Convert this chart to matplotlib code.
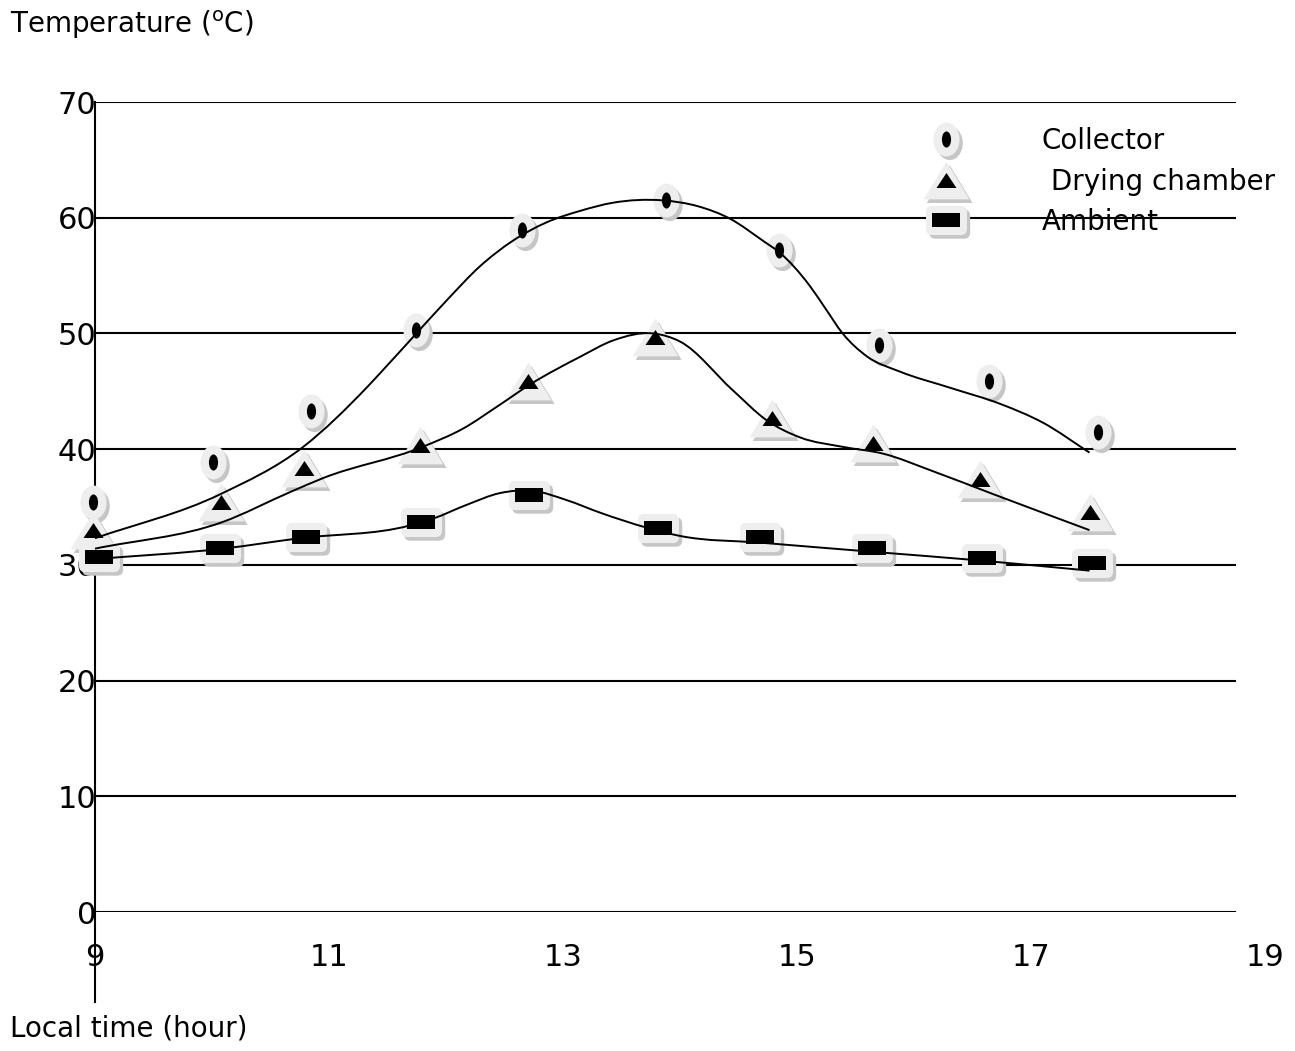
import numpy as np
import matplotlib
matplotlib.use("Agg")
import matplotlib.pyplot as plt
from matplotlib.path import Path
from matplotlib.patches import PathPatch
from matplotlib.lines import Line2D
from matplotlib.legend_handler import HandlerTuple

# ---------------- data ----------------
series_names = ["Collector", " Drying chamber", "Ambient"]

collector_time = [8.98, 10.01, 10.85, 11.74, 12.65, 13.88, 14.85, 15.70, 16.64, 17.57]
collector_temp = [35.4, 38.9, 43.3, 50.3, 58.9, 61.5, 57.2, 49.0, 45.9, 41.5]

drying_time = [8.98, 10.08, 10.79, 11.78, 12.70, 13.79, 14.79, 15.65, 16.56, 17.50]
drying_temp = [33.0, 35.4, 38.4, 40.4, 45.9, 49.7, 42.7, 40.5, 37.4, 34.6]

ambient_time = [9.03, 10.07, 10.80, 11.79, 12.71, 13.81, 14.68, 15.64, 16.58, 17.52]
ambient_temp = [30.7, 31.5, 32.4, 33.7, 36.0, 33.2, 32.4, 31.5, 30.6, 30.2]

# smoothed trend curves
collector_curve_time = [9.0, 10.07, 10.78, 11.32, 11.44, 11.72, 12.01, 12.29, 12.57, 12.86,
                        13.15, 13.43, 13.85, 14.15, 14.43, 14.71, 14.85, 15.11, 15.24,
                        15.39, 15.60, 15.88, 16.31, 16.74, 17.10, 17.50]
collector_curve_temp = [32.3, 36.1, 40.2, 45.3, 46.6, 49.7, 52.9, 55.8, 58.0, 59.6,
                        60.6, 61.3, 61.5, 61.0, 59.9, 58.0, 57.0, 54.1, 52.2,
                        50.0, 48.0, 46.7, 45.3, 43.9, 42.3, 39.7]

drying_curve_time = [9.0, 10.09, 10.67, 10.95, 11.80, 12.15, 12.44, 12.72, 13.15, 13.43,
                     13.77, 14.0, 14.45, 14.74, 15.03, 15.39, 15.74, 16.16, 16.68,
                     17.50]
drying_curve_temp = [31.4, 33.7, 36.3, 37.5, 40.2, 41.8, 43.7, 45.6, 48.0, 49.4,
                     50.0, 49.3, 45.1, 42.5, 41.0, 40.2, 39.6, 38.1, 36.1,
                     33.0]

ambient_curve_time = [9.0, 10.09, 10.75, 11.69, 11.89, 12.18, 12.46, 12.74, 13.03, 13.32,
                      13.72, 14.0, 14.71, 15.68, 16.54, 17.50]
ambient_curve_temp = [30.5, 31.4, 32.3, 33.4, 34.0, 35.2, 36.2, 36.4, 35.6, 34.5,
                      33.2, 32.5, 31.9, 31.1, 30.4, 29.5]

x_ticks = [9, 11, 13, 15, 17, 19]
y_ticks = [0, 10, 20, 30, 40, 50, 60, 70]

# ---------------- helpers ----------------
W, H = 1295, 1051
FONT = "DejaVu Sans"
plt.rcParams["font.family"] = [FONT]
plt.rcParams["mathtext.fontset"] = "dejavusans"

BODY = "#eeeeee"
SHADOW = "#c6c6c6"
SH_DX, SH_DY = 2.3, -2.6  # shadow offset in points


def smooth_path(xs, ys):
    """Smooth cubic (Hermite -> Bezier) path through the read curve points."""
    x = np.asarray(xs, float)
    y = np.asarray(ys, float)
    n = len(x)
    h = np.diff(x)
    s = np.diff(y) / h
    d = np.empty(n)
    d[0], d[-1] = s[0], s[-1]
    for i in range(1, n - 1):
        d[i] = (h[i - 1] * s[i] + h[i] * s[i - 1]) / (h[i - 1] + h[i])
    verts = [(x[0], y[0])]
    codes = [Path.MOVETO]
    for i in range(n - 1):
        verts += [(x[i] + h[i] / 3, y[i] + d[i] * h[i] / 3),
                  (x[i + 1] - h[i] / 3, y[i + 1] - d[i + 1] * h[i] / 3),
                  (x[i + 1], y[i + 1])]
        codes += [Path.CURVE4] * 3
    return Path(verts, codes)


def marker(path, dx=0.0, dy=0.0):
    p = Path(path.vertices + np.array([dx, dy]), path.codes)
    ms = 2 * np.max(np.abs(p.vertices))
    return p, ms


def oval(hw, hh):
    c = Path.unit_circle()
    return Path(c.vertices * np.array([hw, hh]), c.codes)


def tri(hw, hh):
    return Path([(-hw, -hh), (hw, -hh), (0, hh), (-hw, -hh)],
                [Path.MOVETO, Path.LINETO, Path.LINETO, Path.CLOSEPOLY])


def rrect(w, h, r):
    hw, hh = w / 2, h / 2
    v = [(-hw + r, -hh), (hw - r, -hh), (hw, -hh), (hw, -hh + r), (hw, hh - r), (hw, hh),
         (hw - r, hh), (-hw + r, hh), (-hw, hh), (-hw, hh - r), (-hw, -hh + r), (-hw, -hh),
         (-hw + r, -hh), (-hw + r, -hh)]
    c = [Path.MOVETO, Path.LINETO, Path.CURVE3, Path.CURVE3, Path.LINETO, Path.CURVE3,
         Path.CURVE3, Path.LINETO, Path.CURVE3, Path.CURVE3, Path.LINETO, Path.CURVE3,
         Path.CURVE3, Path.CLOSEPOLY]
    return Path(v, c)


def rect(w, h):
    hw, hh = w / 2, h / 2
    return Path([(-hw, -hh), (hw, -hh), (hw, hh), (-hw, hh), (-hw, -hh)],
                [Path.MOVETO, Path.LINETO, Path.LINETO, Path.LINETO, Path.CLOSEPOLY])


marker_sets = [
    (oval(9.4, 12.2), oval(3.3, 5.8)),
    (tri(16.5, 13.6), tri(7.2, 5.4)),
    (rrect(29.5, 21.0, 4.5), rect(19.5, 9.6)),
]


def marker_lines(body_shape, inner_shape):
    sp, sms = marker(body_shape, SH_DX, SH_DY)
    bp, bms = marker(body_shape)
    ip, ims = marker(inner_shape)
    kw = dict(linestyle="none", markeredgewidth=0)
    return [dict(marker=sp, markersize=sms, markerfacecolor=SHADOW, **kw),
            dict(marker=bp, markersize=bms, markerfacecolor=BODY, **kw),
            dict(marker=ip, markersize=ims, markerfacecolor="black", **kw)]


# ---------------- figure ----------------
fig = plt.figure(figsize=(W / 100, H / 100), dpi=100)
x0, x1 = 95 / W, 1265 / W
y0, y1 = 1 - 912 / H, 1 - 102 / H
ax = fig.add_axes([x0, y0, x1 - x0, y1 - y0])
ax.set_xlim(9, 19)
ax.set_ylim(0, 70)
for s in ax.spines.values():
    s.set_visible(False)

grid_xmax = (1235 - 95) / (1265 - 95)
for yv in y_ticks:
    ax.axhline(yv, xmin=0, xmax=grid_xmax, color="black", lw=1.5, zorder=1)
# vertical axis line, extending below the x axis
ax.add_line(Line2D([0, 0], [(912 - 1002) / 810, 1], transform=ax.transAxes,
                   color="black", lw=1.5, clip_on=False, zorder=1))

ax.set_xticks(x_ticks)
ax.set_xticklabels([str(v) for v in x_ticks])
ax.set_yticks(y_ticks)
ax.set_yticklabels([str(v) for v in y_ticks])
ax.tick_params(axis="both", length=0, labelsize=22)
ax.tick_params(axis="y", pad=-1)
ax.tick_params(axis="x", pad=22)

times = [collector_time, drying_time, ambient_time]
temps = [collector_temp, drying_temp, ambient_temp]
curves = [(collector_curve_time, collector_curve_temp),
          (drying_curve_time, drying_curve_temp),
          (ambient_curve_time, ambient_curve_temp)]

handles = []
for t, v, (ct, cv), (bshape, ishape) in zip(times, temps, curves, marker_sets):
    layers = marker_lines(bshape, ishape)
    hl = []
    for z, kw in enumerate(layers):
        ax.plot(t, v, zorder=3 + z * 0.1, clip_on=False, **kw)
        hl.append(Line2D([], [], **kw))
    handles.append(tuple(hl))
    ax.add_patch(PathPatch(smooth_path(ct, cv), facecolor="none", edgecolor="black",
                           lw=1.4, zorder=4, transform=ax.transData))

leg = ax.legend(handles, series_names, handler_map={tuple: HandlerTuple(ndivide=1)},
                loc="upper left", bbox_to_anchor=(925 / W, 1 - 127 / H),
                bbox_transform=fig.transFigure, frameon=False, fontsize=20,
                handlelength=1.5, handletextpad=2.7, labelspacing=0.45,
                borderpad=0, borderaxespad=0)

fig.text(10 / W, 1 - 25 / H, r"Temperature ($^{\mathrm{o}}$C)", fontsize=20,
         ha="left", va="center")
fig.text(10 / W, 1 - 1028 / H, "Local time (hour)", fontsize=20, ha="left", va="center")

fig.savefig("out.png", dpi=100)
